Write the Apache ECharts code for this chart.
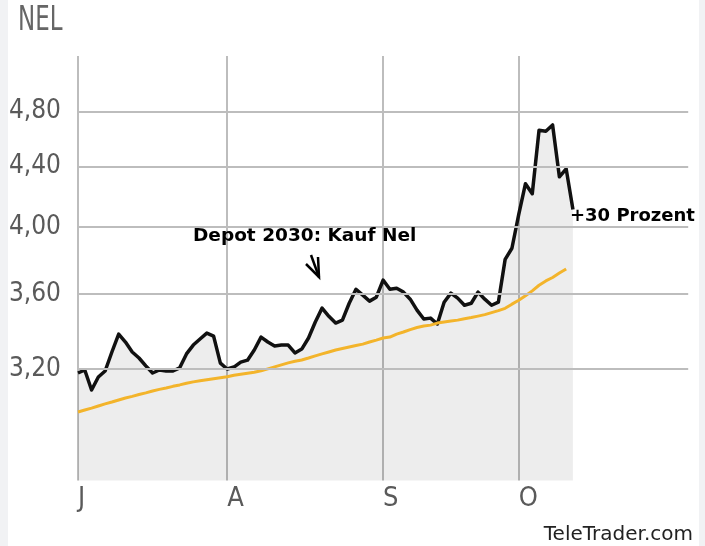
<!DOCTYPE html>
<html>
<head>
<meta charset="utf-8">
<script src="https://cdn.jsdelivr.net/npm/echarts@6/dist/echarts.min.js"></script>
<style>
  html, body { margin: 0; padding: 0; background: #ffffff; }
  #chart { width: 705px; height: 546px; }
</style>
</head>
<body>
<div id="chart"></div>
<script>
// ---- data ----
const monthLabels = ['J', 'A', 'S', 'O'];
const monthStartIndex = [0, 22, 45, 65];
const tradingDays = Array.from({ length: 91 }, (_, i) => String(i));
const yTicks = [3.2, 3.6, 4.0, 4.4, 4.8];

const price = [
  3.179, 3.194, 3.095, 3.159, 3.189, 3.286, 3.380, 3.338, 3.286, 3.255,
  3.215, 3.179, 3.194, 3.189, 3.189, 3.205, 3.276, 3.322, 3.354, 3.385,
  3.369, 3.229, 3.199, 3.209, 3.234, 3.244, 3.296, 3.364, 3.338, 3.317,
  3.322, 3.322, 3.281, 3.301, 3.359, 3.445, 3.521, 3.476, 3.439, 3.455,
  3.548, 3.627, 3.594, 3.560, 3.582, 3.680, 3.627, 3.633, 3.611, 3.571,
  3.510, 3.461, 3.466, 3.434, 3.554, 3.605, 3.577, 3.537, 3.548, 3.611,
  3.571, 3.537, 3.554, 3.802, 3.869, 4.079, 4.283, 4.216, 4.659, 4.652,
  4.698, 4.330, 4.385, 4.113
];

const movingAvg = [
  2.990, 2.999, 3.008, 3.018, 3.028, 3.037, 3.047, 3.056, 3.064, 3.073,
  3.081, 3.090, 3.098, 3.105, 3.113, 3.120, 3.128, 3.135, 3.140, 3.145,
  3.150, 3.155, 3.160, 3.168, 3.173, 3.178, 3.183, 3.190, 3.200, 3.210,
  3.220, 3.230, 3.238, 3.245, 3.255, 3.266, 3.276, 3.286, 3.296, 3.304,
  3.312, 3.320, 3.327, 3.338, 3.348, 3.359, 3.364, 3.380, 3.391, 3.404,
  3.415, 3.423, 3.428, 3.439, 3.445, 3.450, 3.455, 3.463, 3.469, 3.477,
  3.485, 3.496, 3.507, 3.520, 3.543, 3.565, 3.590, 3.618, 3.650, 3.675,
  3.695, 3.721, 3.745
];

// ---- chart ----
const narrow = '"Liberation Sans Narrow", "DejaVu Sans Condensed", sans-serif';
const isMonthStart = (i) => monthStartIndex.indexOf(i) !== -1;
const chart = echarts.init(document.getElementById('chart'), null, { renderer: 'canvas' });

chart.setOption({
  animation: false,
  backgroundColor: '#ffffff',
  grid: { left: 78, top: 56, width: 610.2, height: 424.5, containLabel: false },
  xAxis: {
    type: 'category',
    data: tradingDays,
    boundaryGap: false,
    axisLine: { show: false },
    axisTick: { show: false },
    axisLabel: {
      interval: (i) => isMonthStart(i),
      formatter: (v) => monthLabels[monthStartIndex.indexOf(Number(v))] || '',
      align: 'left',
      margin: 5,
      fontFamily: narrow,
      fontSize: 27,
      color: '#5a5a5a'
    },
    splitLine: {
      show: true,
      interval: (i) => isMonthStart(i),
      lineStyle: { color: '#bdbdbd', width: 2 }
    }
  },
  yAxis: {
    type: 'log',
    logBase: 10,
    min: 2.684,
    max: 5.237,
    axisLine: { show: false },
    axisTick: { show: false },
    axisLabel: { show: false },
    splitLine: { show: false }
  },
  series: [
    {
      name: 'grid',
      type: 'line',
      data: [],
      z: 1,
      silent: true,
      markLine: {
        silent: true,
        symbol: ['none', 'none'],
        animation: false,
        lineStyle: { color: '#bdbdbd', width: 2, type: 'solid' },
        label: {
          show: true,
          position: 'start',
          distance: 17,
          formatter: (p) => Number(p.value).toFixed(2).replace('.', ','),
          fontFamily: narrow,
          fontSize: 26,
          color: '#5a5a5a'
        },
        data: yTicks.map((v) => ({ yAxis: v }))
      }
    },
    {
      name: 'NEL',
      type: 'line',
      data: price,
      z: 3,
      symbol: 'none',
      lineStyle: { color: '#111111', width: 3.5, join: 'round' },
      areaStyle: { color: 'rgba(0,0,0,0.1)', origin: 'start' }
    },
    {
      name: 'MA',
      type: 'line',
      data: movingAvg,
      z: 4,
      symbol: 'none',
      lineStyle: { color: '#f3b42b', width: 3 }
    }
  ],
  graphic: [
    { type: 'rect', left: 0, top: 0, shape: { width: 8, height: 546 }, style: { fill: '#f1f2f4' }, z: 0 },
    { type: 'rect', left: 699, top: 0, shape: { width: 6, height: 546 }, style: { fill: '#f1f2f4' }, z: 0 },
    {
      type: 'text', x: 18, y: 21, scaleX: 0.75,
      style: { text: 'NEL', font: '34px ' + narrow, fill: '#666666', verticalAlign: 'middle', align: 'left' },
      z: 10
    },
    {
      type: 'text', x: 193, y: 236,
      style: { text: 'Depot 2030: Kauf Nel', font: 'bold 18.5px "DejaVu Sans", sans-serif', fill: '#000000', verticalAlign: 'middle', align: 'left' },
      z: 10
    },
    {
      type: 'polyline',
      shape: { points: [[311, 255], [319, 277]] },
      style: { stroke: '#000000', lineWidth: 2.5, fill: null },
      z: 10
    },
    {
      type: 'polyline',
      shape: { points: [[306, 264], [319, 277], [318, 257]] },
      style: { stroke: '#000000', lineWidth: 2.5, fill: null, lineJoin: 'miter' },
      z: 10
    },
    {
      type: 'text', x: 570, y: 216,
      style: { text: '+30 Prozent', font: 'bold 18px "DejaVu Sans", sans-serif', fill: '#000000', verticalAlign: 'middle', align: 'left' },
      z: 10
    },
    {
      type: 'text', x: 693, y: 535,
      style: { text: 'TeleTrader.com', font: '20px "DejaVu Sans", sans-serif', fill: '#222222', verticalAlign: 'middle', align: 'right' },
      z: 10
    }
  ]
});
</script>
</body>
</html>
